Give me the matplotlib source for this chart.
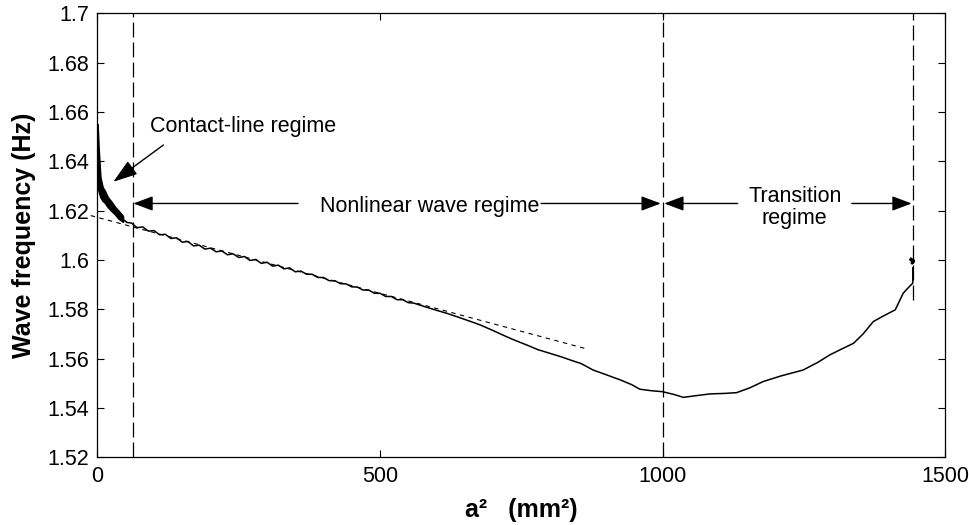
import matplotlib
matplotlib.use("Agg")
import matplotlib.pyplot as plt

plt.rcParams['font.family'] = ['Liberation Sans', 'DejaVu Sans']

# ---- data ----
# contact-line regime: thick oscillating band (upper / lower envelope)
band_x = [0, 2, 5, 9, 13, 18, 25, 31, 37, 45]
band_upper = [1.6550, 1.6450, 1.6335, 1.6295, 1.6280, 1.6255, 1.6235, 1.6215, 1.6200, 1.6178]
band_lower = [1.6300, 1.6280, 1.6255, 1.6240, 1.6232, 1.6215, 1.6198, 1.6185, 1.6168, 1.6155]

# measured wave frequency vs a^2
a2 = [45, 52, 60, 70, 80, 90, 100, 110, 120, 130, 140, 150, 160, 170, 180, 190,
      200, 210, 220, 230, 240, 250, 260, 270, 280, 290, 300, 310, 320, 330, 340,
      350, 360, 370, 380, 390, 400, 410, 420, 430, 440, 450, 460, 470, 480, 490,
      500, 510, 520, 530, 540, 550, 560, 580, 600, 618, 640, 660, 677, 700, 720,
      737, 760, 780, 800, 820, 840, 856, 877, 900, 925, 945, 960, 980, 1000, 1020,
      1037, 1060, 1084, 1110, 1131, 1155, 1178, 1210, 1249, 1275, 1296, 1318,
      1338, 1355, 1373, 1391, 1412, 1426, 1436, 1443, 1443]
freq = [1.6165, 1.6152, 1.6150, 1.6131, 1.6134, 1.6117, 1.6119, 1.6102, 1.6104,
        1.6087, 1.6090, 1.6072, 1.6075, 1.6057, 1.6060, 1.6044, 1.6048, 1.6033,
        1.6037, 1.6021, 1.6025, 1.6010, 1.6014, 1.5998, 1.6002, 1.5986, 1.5991,
        1.5975, 1.5979, 1.5964, 1.5968, 1.5952, 1.5955, 1.5942, 1.5942, 1.5929,
        1.5929, 1.5916, 1.5916, 1.5904, 1.5903, 1.5891, 1.5890, 1.5878, 1.5878,
        1.5865, 1.5865, 1.5852, 1.5852, 1.5839, 1.5839, 1.5827, 1.5825, 1.5810,
        1.5796, 1.5784, 1.5767, 1.5751, 1.5737, 1.5714, 1.5693, 1.5676, 1.5655,
        1.5636, 1.5622, 1.5608, 1.5592, 1.5580, 1.5554, 1.5535, 1.5514, 1.5495,
        1.5476, 1.5470, 1.5466, 1.5455, 1.5443, 1.5450, 1.5457, 1.5459, 1.5462,
        1.5482, 1.5507, 1.5530, 1.5554, 1.5585, 1.5615, 1.5640, 1.5662, 1.5700,
        1.5750, 1.5773, 1.5798, 1.5865, 1.5890, 1.5906, 1.5968]

# small cluster at the end of the record
end_x = [1440, 1444, 1442, 1443]
end_y = [1.6002, 1.5996, 1.5988, 1.5995]

# linear fit (dashed)
fit_x = [-12, 865]
fit_y = [1.6180, 1.5640]

# regime boundaries
bounds = [63, 1000, 1443]
bound_bottom = [1.52, 1.52, 1.5838]

x_ticks = [0, 500, 1000, 1500]
y_ticks = [1.52, 1.54, 1.56, 1.58, 1.60, 1.62, 1.64, 1.66, 1.68, 1.70]

# ---- figure ----
fig = plt.figure(figsize=(9.7, 5.25), dpi=100)
ax = fig.add_axes([97.5 / 970, 1 - 457.3 / 525, (945 - 97.5) / 970, (457.3 - 13.3) / 525])

ax.fill_between(band_x, band_lower, band_upper, color='k', lw=1.2)
ax.plot(a2, freq, color='k', lw=1.1)
ax.plot(end_x, end_y, color='k', lw=2.5)
ax.plot(fit_x, fit_y, color='k', lw=0.8, dashes=(4, 4), clip_on=False)

for bx, bb in zip(bounds, bound_bottom):
    ax.plot([bx, bx], [bb, 1.7], color='k', lw=0.9, dashes=(12, 4))

ax.set_xlim(0, 1500)
ax.set_ylim(1.52, 1.70)
ax.set_xticks(x_ticks)
ax.set_xticklabels([str(v) for v in x_ticks])
ax.set_yticks(y_ticks)
ax.set_yticklabels(['%g' % v for v in y_ticks])
ax.tick_params(direction='in', length=5, width=0.8, top=True, right=True,
               labelsize=15.5, pad=6)
for s in ax.spines.values():
    s.set_linewidth(0.9)

ax.set_xlabel('a\u00b2   (mm\u00b2)', fontsize=18, fontweight='bold', labelpad=8)
ax.set_ylabel('Wave frequency (Hz)', fontsize=18, fontweight='bold', labelpad=8)

arrow_y = 1.6229
def arrow(tail, tip, hl=1.2, hw=0.45):
    ax.annotate('', xy=tip, xytext=tail,
                arrowprops=dict(arrowstyle='-|>,head_length=%g,head_width=%g' % (hl, hw),
                                color='k', lw=1.0, shrinkA=0, shrinkB=0,
                                mutation_scale=10))

arrow((355, arrow_y), (63.5, arrow_y))
arrow((785, arrow_y), (997, arrow_y))
arrow((1133, arrow_y), (1003, arrow_y))
arrow((1335, arrow_y), (1441, arrow_y))
arrow((116.5, 1.6466), (28, 1.6317), hl=1.5, hw=0.5)

ax.text(93, 1.6543, 'Contact-line regime', ha='left', va='center', fontsize=15.5)
ax.text(588, 1.6218, 'Nonlinear wave regime', ha='center', va='center', fontsize=15.5)
ax.text(1234, 1.6212, 'Transition\nregime', ha='center', va='center', fontsize=15.5,
        linespacing=1.1)

fig.savefig('out.png', dpi=100)
